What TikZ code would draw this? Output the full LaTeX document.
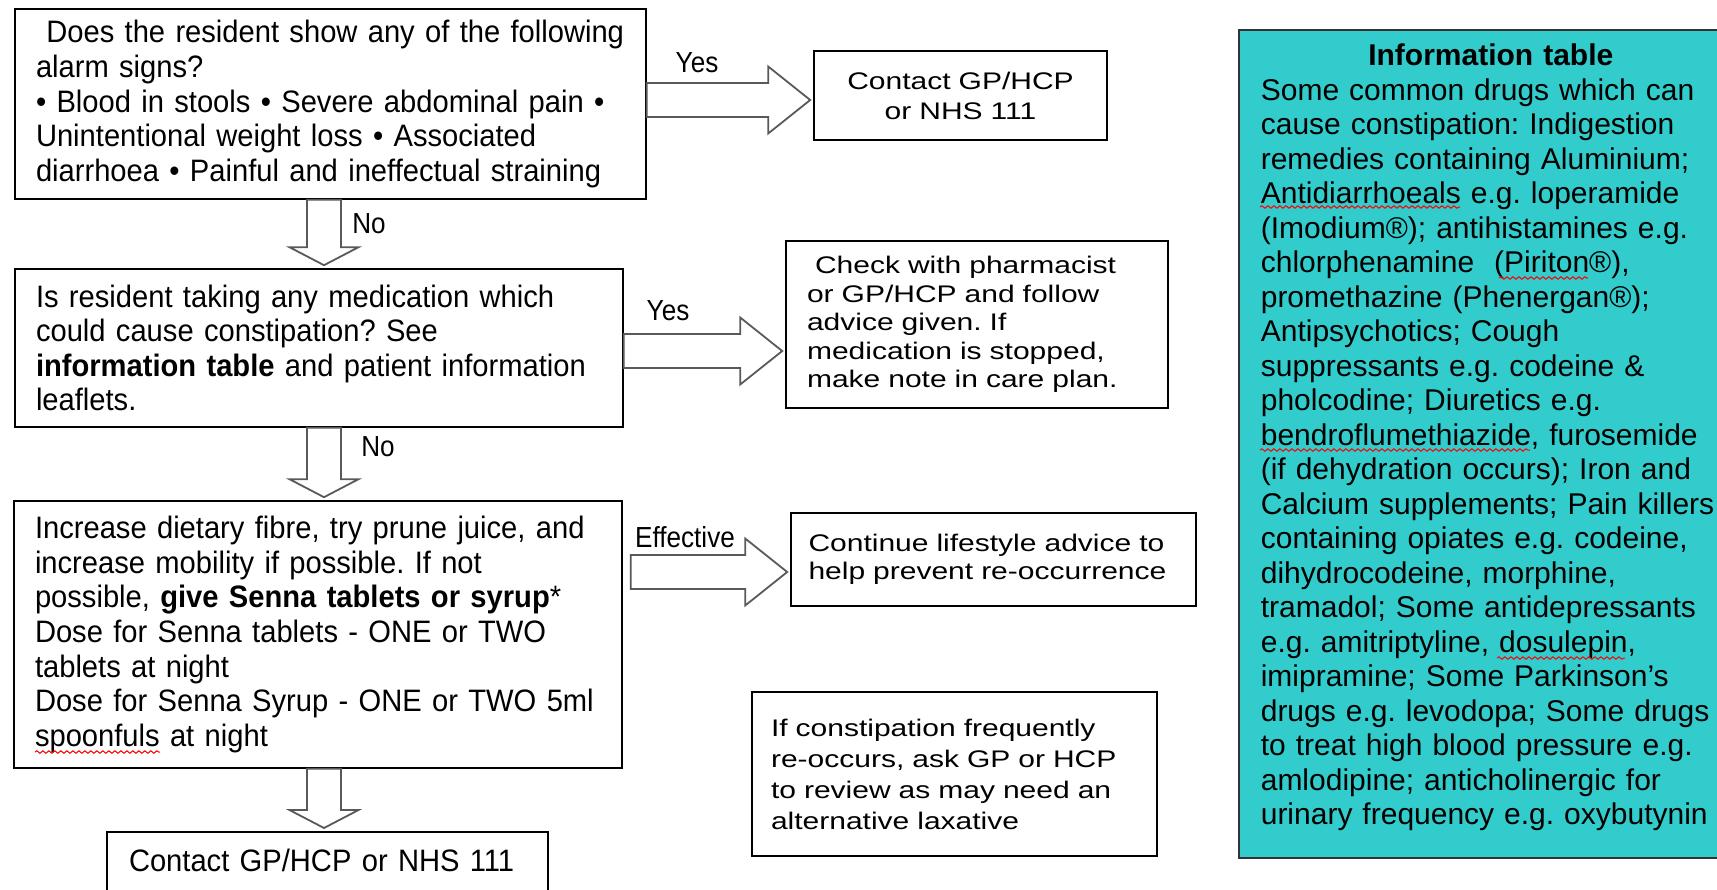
\documentclass[tikz,border=0pt]{standalone}
\usepackage{fontspec}
\setmainfont{Liberation Sans}
\newfontfamily\leftfont[FakeStretch=0.94]{Liberation Sans}
\newfontfamily\widefont[FakeStretch=1.25]{Liberation Sans}
\newfontfamily\narrowfont[FakeStretch=0.9]{Liberation Sans}
\usetikzlibrary{calc,decorations.pathmorphing}
\definecolor{infoteal}{HTML}{33CCCC}
\definecolor{arrowgray}{HTML}{595959}
\frenchspacing

\tikzset{
  qbox/.style={draw, line width=0.8pt, inner xsep=10.5pt, align=left, font=\leftfont\fontsize{15.5}{17.3}\selectfont},
  obox/.style={draw, line width=0.8pt, inner xsep=10.5pt, align=left, font=\widefont\fontsize{12}{14.25}\selectfont},
  lbl/.style={inner sep=0pt, font=\narrowfont\fontsize{14.5}{16}\selectfont},
  blockarrow/.style={draw=arrowgray, line width=0.9pt, fill=white, line join=miter},
  spell/.style={red, line width=0.5pt, decorate, decoration={snake, amplitude=0.6pt, segment length=3pt}}
}

\newcommand{\hblock}[2]{%
  \draw[blockarrow] let \p1=(#1), \p2=(#2) in
    (\x1,\y1+8.5pt) -- (\x2-22.5pt,\y1+8.5pt) -- (\x2-22.5pt,\y1+16.75pt) -- (\x2-1.5pt,\y1)
    -- (\x2-22.5pt,\y1-16.75pt) -- (\x2-22.5pt,\y1-8.5pt) -- (\x1,\y1-8.5pt) -- cycle;}
\newcommand{\vblock}[2]{%
  \draw[blockarrow] let \p1=(#1), \p2=(#2) in
    (\x1-8.5pt,\y1) -- (\x1-8.5pt,\y2+10.5pt) -- (\x1-17.25pt,\y2+10.5pt) -- (\x1,\y2+1.5pt)
    -- (\x1+17.25pt,\y2+10.5pt) -- (\x1+8.5pt,\y2+10.5pt) -- (\x1+8.5pt,\y1) -- cycle;}

\begin{document}
\begin{tikzpicture}[x=0.5pt,y=-0.5pt]
\useasboundingbox (0,0) rectangle (1717,889);
\clip (0,0) rectangle (1717,889);

\node[qbox, text width=294.5pt, minimum height=95pt] (q1) at (330.5,104) {\mbox{}\ Does the resident show any of the following\\ alarm signs?\\ • Blood in stools • Severe abdominal pain •\\ Unintentional weight loss • Associated\\ diarrhoea • Painful and ineffectual straining};
\node[qbox, text width=283pt, minimum height=79pt] (q2) at (319,348) {Is resident taking any medication which\\ could cause constipation? See\\ \textbf{information table} and patient information\\ leaflets.};
\node[qbox, text width=283pt, minimum height=133.5pt] (act) at (318,634.5) {Increase dietary fibre, try prune juice, and\\ increase mobility if possible. If not\\ possible, \textbf{give Senna tablets or syrup}*\\ Dose for Senna tablets - ONE or TWO\\ tablets at night\\ Dose for Senna Syrup - ONE or TWO 5ml\\ spoonfuls at night};
\node[qbox, inner xsep=11pt, text width=198.5pt, text height=11pt, text depth=40pt, inner ysep=9pt, anchor=north] (gp2) at (327.5,831) {Contact GP/HCP or NHS 111};

\node[obox, align=center, text width=125.5pt, minimum height=44.5pt, font=\widefont\fontsize{12}{15}\selectfont] (gp1) at (960.5,95.5) {Contact GP/HCP\\ or NHS 111};
\node[obox, text width=170pt, minimum height=83.5pt] (chk) at (977,324.5) {\mbox{}\ Check with pharmacist\\ or GP/HCP and follow\\ advice given. If\\ medication is stopped,\\ make note in care plan.};
\node[obox, inner xsep=8.75pt, text width=185pt, minimum height=46.5pt] (cont) at (993.5,559.5) {Continue lifestyle advice to\\ help prevent re-occurrence};
\node[obox, inner xsep=9.5pt, text width=183.5pt, minimum height=82pt, font=\widefont\fontsize{12}{15.5}\selectfont] (rev) at (954.5,774) {If constipation frequently\\ re-occurs, ask GP or HCP\\ to review as may need an\\ alternative laxative};

\node[draw=black!80, fill=infoteal, line width=0.8pt, anchor=north west, inner xsep=11pt, text width=230pt, minimum height=414pt, align=left, font=\fontsize{15}{17.25}\selectfont] (info) at (1238,29) {\makebox[\linewidth]{\textbf{Information table}}\\ Some common drugs which can\\ cause constipation: Indigestion\\ remedies containing Aluminium;\\ Antidiarrhoeals e.g. loperamide\\ (Imodium®); antihistamines e.g.\\ chlorphenamine\ \ (Piriton®),\\ promethazine (Phenergan®);\\ Antipsychotics; Cough\\ suppressants e.g. codeine \&\\ pholcodine; Diuretics e.g.\\ bendroflumethiazide, furosemide\\ (if dehydration occurs); Iron and\\ Calcium supplements; Pain killers\\ containing opiates e.g. codeine,\\ dihydrocodeine, morphine,\\ tramadol; Some antidepressants\\ e.g. amitriptyline, dosulepin,\\ imipramine; Some Parkinson’s\\ drugs e.g. levodopa; Some drugs\\ to treat high blood pressure e.g.\\ amlodipine; anticholinergic for\\ urinary frequency e.g. oxybutynin\\[-8pt]\mbox{}};

\hblock{q1.east |- 0,100}{gp1.west}
\hblock{q2.east |- 0,351}{chk.west}
\hblock{$(act.east |- 0,572)+(8,0)$}{cont.west}
\vblock{q1.south -| 324,0}{q2.north -| 324,0}
\vblock{q2.south -| 324,0}{act.north -| 324,0}
\vblock{act.south -| 324,0}{gp2.north -| 324,0}

\node[lbl] (yes1) at (697,63) {Yes};
\node[lbl] (no1) at (369,224) {No};
\node[lbl] (yes2) at (668,311) {Yes};
\node[lbl] (no2) at (378,447) {No};
\node[lbl] (eff) at (685,537) {Effective};

\draw[spell] (35,752) -- (160,752);
\draw[spell] (1260,207) -- (1460,207);
\draw[spell] (1499,278) -- (1588,278);
\draw[spell] (1260,450) -- (1530,450);
\draw[spell] (1497,658) -- (1625,658);
\end{tikzpicture}
\end{document}
